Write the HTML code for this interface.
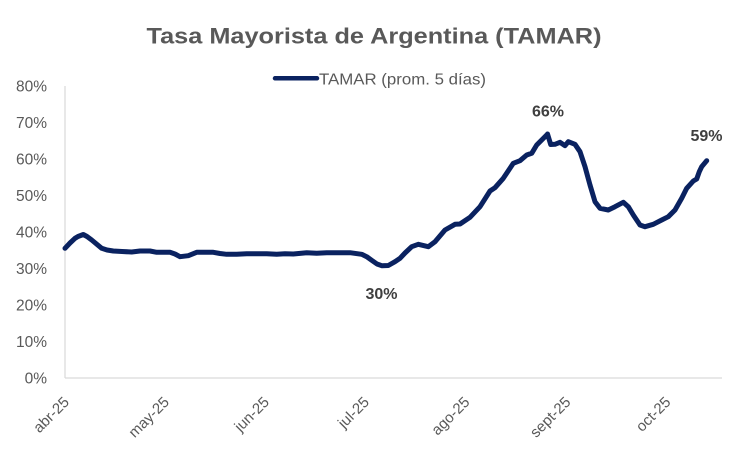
<!DOCTYPE html>
<html>
<head>
<meta charset="utf-8">
<style>
  html, body { margin:0; padding:0; background:#ffffff; }
  body { width:750px; height:450px; overflow:hidden; }
  svg { display:block; }
  text { font-family: "Liberation Sans", "DejaVu Sans", sans-serif; }
</style>
</head>
<body>
<svg width="750" height="450" viewBox="0 0 750 450" xmlns="http://www.w3.org/2000/svg">
  <rect x="0" y="0" width="750" height="450" fill="#ffffff"/>

  <!-- Title -->
  <text x="374" y="43.5" text-anchor="middle" font-size="22.5" font-weight="bold" fill="#595959" textLength="455" lengthAdjust="spacingAndGlyphs">Tasa Mayorista de Argentina (TAMAR)</text>

  <!-- Legend -->
  <line x1="275" y1="78.3" x2="317" y2="78.3" stroke="#0a2260" stroke-width="4.5" stroke-linecap="round"/>
  <text x="319" y="84.5" font-size="16" fill="#595959" textLength="167" lengthAdjust="spacingAndGlyphs">TAMAR (prom. 5 días)</text>

  <!-- Axes -->
  <line x1="65" y1="86" x2="65" y2="378" stroke="#d9d9d9" stroke-width="1.2"/>
  <line x1="65" y1="378" x2="722" y2="378" stroke="#d9d9d9" stroke-width="1.2"/>

  <!-- Y labels -->
  <g font-size="15.5" fill="#595959" text-anchor="end">
    <text x="47" y="91.5">80%</text>
    <text x="47" y="128">70%</text>
    <text x="47" y="164.5">60%</text>
    <text x="47" y="201">50%</text>
    <text x="47" y="237.5">40%</text>
    <text x="47" y="274">30%</text>
    <text x="47" y="310.5">20%</text>
    <text x="47" y="347">10%</text>
    <text x="47" y="383.5">0%</text>
  </g>

  <!-- X labels -->
  <g font-size="15" fill="#595959" text-anchor="end">
    <text transform="translate(70,403) rotate(-45)">abr-25</text>
    <text transform="translate(170,403) rotate(-45)">may-25</text>
    <text transform="translate(270,403) rotate(-45)">jun-25</text>
    <text transform="translate(370,403) rotate(-45)">jul-25</text>
    <text transform="translate(470.5,403) rotate(-45)">ago-25</text>
    <text transform="translate(571.5,403) rotate(-45)">sept-25</text>
    <text transform="translate(671.5,403) rotate(-45)">oct-25</text>
  </g>

  <!-- Series -->
  <polyline fill="none" stroke="#0a2260" stroke-width="5" stroke-linejoin="round" stroke-linecap="round"
    points="65,248.3 70,243 75,238.3 78,236.5 83.3,234.5 87,236.5 91.7,240 101.7,248.3 107,250 113.3,251 122,251.5 131.7,252 140,251 150,251 156.7,252.3 170,252.3 175,254 180,256.7 188.3,255.7 196.7,252.3 213.3,252.3 220,253.5 226.7,254.3 236.7,254.3 246.7,253.7 266.7,253.7 276.7,254.3 285,253.7 293.3,254 306.7,252.7 316.7,253.3 326.7,252.7 350,252.7 361.7,254.3 366.7,256.7 372,260.5 377,264 381.7,265.7 388.3,265.5 395,261.7 400,258.3 405,253 411.7,246.7 418.3,244.3 428.3,246.7 435,241.7 445,230 455,224.3 460,224 470,217.3 480,206.7 490,191 495,187.7 503.3,178.3 513.3,163.3 520,160.7 526.7,155 531.7,153.3 536.7,145 546.7,135 547.5,134 550.7,144.5 555,144.3 560,142.3 565,145.7 568.3,141.7 575,144.3 580,151.7 585,166.7 590,185 595,201.7 600,208.3 608.3,210 615,206.7 623.3,202.3 628.3,206.7 633.3,215 640,225 645,226.7 653.3,224.3 661.7,220 668.3,216.7 675,210 681.7,198.3 686.7,188.3 693.3,181 696.7,179 699.3,171.7 701.7,166.7 706.7,160.7"/>

  <!-- Data labels -->
  <g font-size="16" font-weight="bold" fill="#3f3f3f" text-anchor="middle">
    <text x="381.5" y="299">30%</text>
    <text x="548" y="116.5">66%</text>
    <text x="706.5" y="141">59%</text>
  </g>
</svg>
</body>
</html>
